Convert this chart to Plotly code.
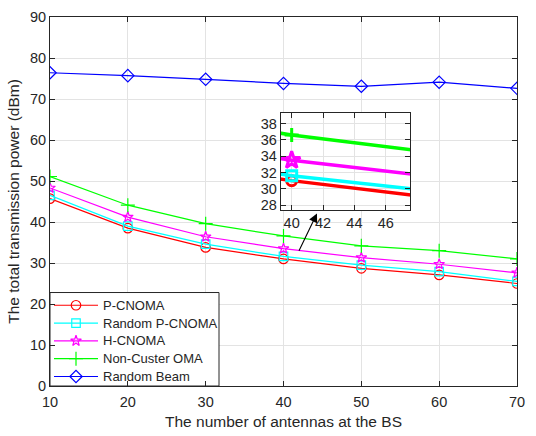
import plotly.graph_objects as go

# Number of BS antennas
antennas = [10, 20, 30, 40, 50, 60, 70]

# Total transmission power (dBm) per scheme
p_cnoma = [45.7, 38.5, 33.8, 31.0, 28.7, 27.1, 25.0]
random_p_cnoma = [46.5, 39.0, 34.6, 31.6, 29.5, 27.9, 25.5]
h_cnoma = [48.3, 41.2, 36.4, 33.5, 31.3, 29.7, 27.6]
non_custer_oma = [51.1, 44.1, 39.6, 36.6, 34.2, 33.0, 31.0]
random_beam = [76.4, 75.7, 74.8, 73.8, 73.1, 74.1, 72.6]

series = [
    ("P-CNOMA", p_cnoma, "#ff0000", "circle-open"),
    ("Random P-CNOMA", random_p_cnoma, "#00ffff", "square-open"),
    ("H-CNOMA", h_cnoma, "#ff00ff", "star-open"),
    ("Non-Custer OMA", non_custer_oma, "#00ff00", "cross-thin-open"),
    ("Random Beam", random_beam, "#0000ff", "diamond-open"),
]

FONT = "Liberation Sans, Arial, sans-serif"
AX = "#262626"
GRID = "#e3e3e3"
W, H = 536, 436
ML, MR, MT, MB = 50, 19, 9, 50


def marker_style(sym, color, lw=1.2):
    size = {"square-open": 8.5, "cross-thin-open": 10, "star-open": 8}.get(sym, 9.5)
    return dict(symbol=sym, size=size, color=color, line=dict(color=color, width=lw))


fig = go.Figure()

# Main curves
for name, vals, color, sym in series:
    fig.add_trace(go.Scatter(
        x=antennas, y=vals, name=name, mode="lines+markers",
        line=dict(color=color, width=1.2),
        marker=marker_style(sym, color),
        xaxis="x", yaxis="y", showlegend=False,
    ))

# Zoomed-in view around 40 antennas (lower four schemes)
for name, vals, color, sym in series[:4]:
    fig.add_trace(go.Scatter(
        x=antennas, y=vals, mode="lines", showlegend=False,
        line=dict(color=color, width=3.5),
        xaxis="x2", yaxis="y2", hoverinfo="skip",
    ))
    i = antennas.index(40)
    fig.add_trace(go.Scatter(
        x=[antennas[i]], y=[vals[i]], mode="markers", showlegend=False,
        marker=dict(symbol=sym, size=13 if sym == "star-open" else 10,
                    color=color, line=dict(color=color, width=3)),
        xaxis="x2", yaxis="y2", hoverinfo="skip",
    ))

# Legend box, drawn on an overlay axis measured in pixels of the plot area
box_x0, box_x1, box_y0, box_y1 = 50, 219, 290.5, 386
fig.add_trace(go.Scatter(
    x=[box_x0, box_x1, box_x1, box_x0, box_x0],
    y=[box_y0, box_y0, box_y1, box_y1, box_y0],
    mode="lines", fill="toself", fillcolor="white",
    line=dict(color=AX, width=1), showlegend=False, hoverinfo="skip",
    xaxis="x3", yaxis="y3",
))
row0, row_step = 303.5, 18.2
for k, (name, vals, color, sym) in enumerate(series):
    ry = row0 + k * row_step
    fig.add_trace(go.Scatter(
        x=[54, 98], y=[ry, ry], mode="lines",
        line=dict(color=color, width=1.2), showlegend=False, hoverinfo="skip",
        xaxis="x3", yaxis="y3",
    ))
    fig.add_trace(go.Scatter(
        x=[76], y=[ry], mode="markers", marker=marker_style(sym, color),
        showlegend=False, hoverinfo="skip", xaxis="x3", yaxis="y3",
    ))
    fig.add_annotation(
        x=101, y=ry, xref="x3", yref="y3", text=name, showarrow=False,
        xanchor="left", yanchor="middle",
        font=dict(family=FONT, size=13, color=AX),
    )

axis_common = dict(
    showline=True, linecolor=AX, linewidth=1, mirror="ticks",
    ticks="inside", ticklen=5, tickcolor=AX,
    showgrid=True, gridcolor=GRID, gridwidth=1, zeroline=False,
    tickfont=dict(family=FONT, size=14.5, color=AX),
)

fig.update_layout(
    width=W, height=H,
    margin=dict(l=ML, r=MR, t=MT, b=MB),
    paper_bgcolor="white", plot_bgcolor="white",
    font=dict(family=FONT, color=AX),
    showlegend=False,
    xaxis=dict(range=[10, 70], dtick=10, domain=[0, 1], ticklabelstandoff=3,
               title=dict(text="The number of antennas at the BS",
                          font=dict(family=FONT, size=15.5, color=AX), standoff=6),
               **axis_common),
    yaxis=dict(range=[0, 90], dtick=10, domain=[0, 1],
               title=dict(text="The total transmission power (dBm)",
                          font=dict(family=FONT, size=15.5, color=AX), standoff=6),
               **axis_common),
    xaxis2=dict(range=[39.3, 47.55], tick0=40, dtick=2, domain=[0.494, 0.771],
                anchor="y2", **axis_common),
    yaxis2=dict(range=[27.4, 39.3], tick0=28, dtick=2, domain=[0.477, 0.740],
                anchor="x2", **axis_common),
    xaxis3=dict(range=[ML, W - MR], overlaying="x", visible=False, fixedrange=True),
    yaxis3=dict(range=[H - MB, MT], overlaying="y", visible=False, fixedrange=True),
)

# Pointer from the curves at 40 antennas to the zoomed view
fig.add_annotation(
    x=44.3, y=42.1, ax=41.9, ay=32.6,
    xref="x", yref="y", axref="x", ayref="y",
    showarrow=True, arrowhead=2, arrowsize=1.6, arrowwidth=1.1,
    arrowcolor="black", text="",
)

fig.write_html("out.html")
